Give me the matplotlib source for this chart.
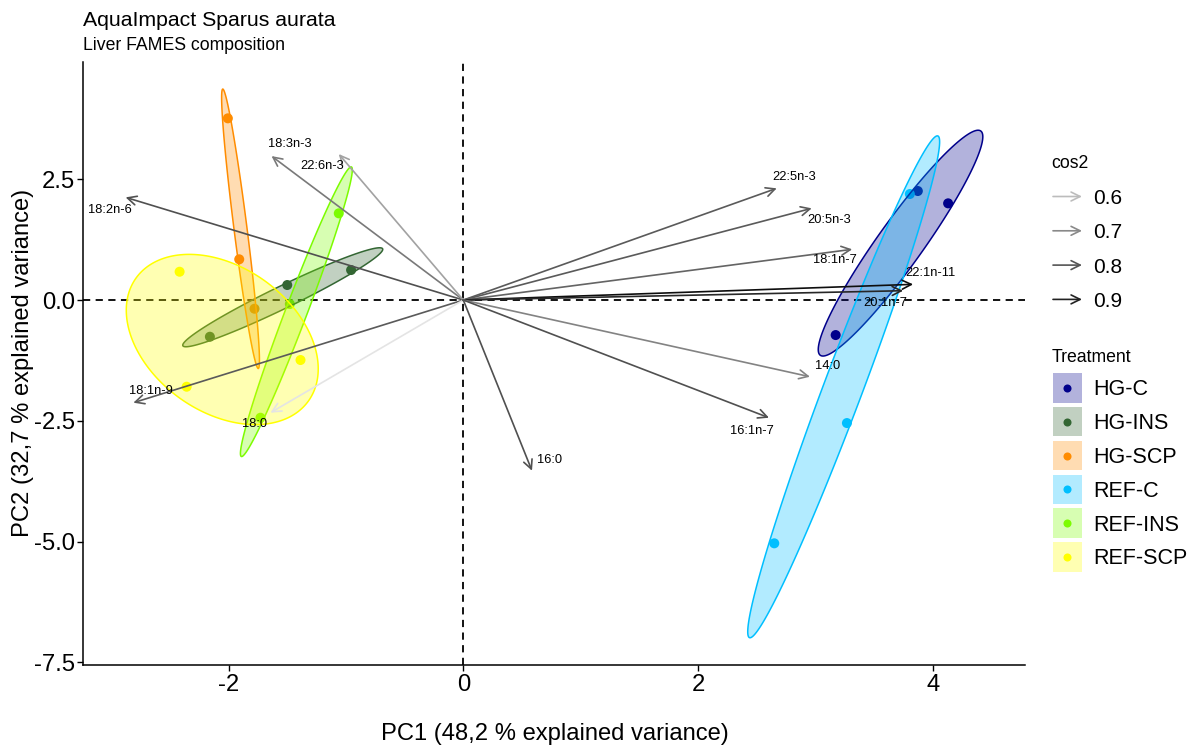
import numpy as np
import matplotlib
matplotlib.use("Agg")
import matplotlib.pyplot as plt
from matplotlib.patches import Polygon, FancyArrowPatch, Rectangle
from matplotlib.lines import Line2D
from matplotlib.colors import LinearSegmentedColormap, Normalize, to_rgba

plt.rcParams['font.family'] = ['Liberation Sans', 'DejaVu Sans']

# ---------------- data ----------------
groups = ["HG-C", "HG-INS", "HG-SCP", "REF-C", "REF-INS", "REF-SCP"]
group_colors = ["#00008B", "#336633", "#FF8C00", "#00BFFF", "#7CFC00", "#FFFF00"]

ind_pc1 = {
    "HG-C":    [3.872, 4.130, 3.172],
    "HG-INS":  [-0.956, -1.500, -2.159],
    "HG-SCP":  [-2.006, -1.909, -1.779],
    "REF-C":   [3.804, 3.268, 2.649],
    "REF-INS": [-1.061, -1.478, -1.728],
    "REF-SCP": [-2.417, -1.387, -2.357],
}
ind_pc2 = {
    "HG-C":    [2.257, 2.002, -0.725],
    "HG-INS":  [0.621, 0.311, -0.760],
    "HG-SCP":  [3.762, 0.843, -0.180],
    "REF-C":   [2.195, -2.547, -5.037],
    "REF-INS": [1.795, -0.083, -2.437],
    "REF-SCP": [0.586, -1.242, -1.795],
}

var_names = ["18:2n-6", "18:3n-3", "22:6n-3", "18:1n-9", "18:0", "16:0",
             "22:5n-3", "20:5n-3", "18:1n-7", "22:1n-11", "20:1n-7", "14:0", "16:1n-7"]
var_pc1 = [-2.877, -1.634, -1.061, -2.811, -1.643, 0.585,
           2.670, 2.968, 3.313, 3.832, 3.747, 2.953, 2.604]
var_pc2 = [2.126, 2.981, 3.023, -2.126, -2.333, -3.534,
           2.313, 1.899, 1.050, 0.325, 0.193, -1.588, -2.437]
var_cos2 = [0.81, 0.73, 0.65, 0.79, 0.52, 0.81,
            0.79, 0.79, 0.77, 0.94, 0.89, 0.71, 0.81]

cos2_breaks = [0.6, 0.7, 0.8, 0.9]
x_ticks = [-2, 0, 2, 4]
y_ticks = [-7.5, -5.0, -2.5, 0.0, 2.5]

title = "AquaImpact Sparus aurata"
subtitle = "Liver FAMES composition"
xlabel = "PC1 (48,2 % explained variance)"
ylabel = "PC2 (32,7 % explained variance)"

# label offsets (pixels) for variable names relative to arrow tips
label_off = [(-16, -13), (18, 12), (-17, -12), (18, 12), (-16, -11), (18, 11),
             (17, 11), (17, -12), (-17, -11), (17, 11), (-18, -12), (18, 11), (-17, -13)]

# ---------------- figure ----------------
W, H = 1197, 746
fig = plt.figure(figsize=(W / 100, H / 100), dpi=100)
fig.patch.set_facecolor("white")


def fx(px):
    return px / W


def fy(py):
    return 1 - py / H


ax_l, ax_r, ax_t, ax_b = 83, 1025, 62.4, 664.7
ax = fig.add_axes([fx(ax_l), fy(ax_b), (ax_r - ax_l) / W, (ax_b - ax_t) / H])
ax.set_xlim(-3.24, 4.785)
ax.set_ylim(-7.55, 4.92)

for s in ["top", "right"]:
    ax.spines[s].set_visible(False)
for s in ["left", "bottom"]:
    ax.spines[s].set_linewidth(1.1)
    ax.spines[s].set_color("black")

ax.set_xticks(x_ticks)
ax.set_xticklabels([str(v) for v in x_ticks])
ax.set_yticks(y_ticks)
ax.set_yticklabels([f"{v:.1f}" for v in y_ticks])
ax.tick_params(axis="both", direction="out", length=4, width=1.0, color="black",
               labelsize=17.2, labelcolor="black")
ax.tick_params(axis="x", pad=3)
ax.tick_params(axis="y", pad=2)

# reference lines
ax.axhline(0, color="black", lw=1.3, ls=(0, (4, 3)), zorder=1)
ax.axvline(0, color="black", lw=1.3, ls=(0, (4, 3)), zorder=1)

# points
for g, c in zip(groups, group_colors):
    ax.scatter(ind_pc1[g], ind_pc2[g], s=52, color=c, edgecolors="none", zorder=2)

# ellipses from group covariance
t = np.linspace(0, 2 * np.pi, 200)
for g, c in zip(groups, group_colors):
    pts = np.column_stack([ind_pc1[g], ind_pc2[g]])
    mu = pts.mean(axis=0)
    cov = np.cov(pts.T) * 2.0
    L = np.linalg.cholesky(cov)
    circ = np.vstack([np.cos(t), np.sin(t)])
    ell = (L @ circ).T + mu
    ax.add_patch(Polygon(ell, closed=True, facecolor=to_rgba(c, 0.3),
                         edgecolor=c, lw=1.1, zorder=3))

# variable arrows
cmap = LinearSegmentedColormap.from_list("cos2", ["#E4E4E4", "#0E0E0E"], N=256)
norm = Normalize(vmin=0.52, vmax=0.94)
for name, x, y, c2, off in zip(var_names, var_pc1, var_pc2, var_cos2, label_off):
    col = cmap(norm(c2))
    arr = FancyArrowPatch((0, 0), (x, y), arrowstyle="->,head_length=0.65,head_width=0.32",
                          mutation_scale=10, color=col, lw=1.2, shrinkA=0, shrinkB=0, zorder=4)
    ax.add_patch(arr)
    ax.annotate(name, xy=(x, y), xytext=off, textcoords="offset pixels",
                ha="center", va="center", fontsize=9.3, color="black", zorder=5)

# titles and axis labels
fig.text(fx(83), fy(26), title, fontsize=15.3, ha="left", va="baseline")
fig.text(fx(83), fy(50), subtitle, fontsize=12.7, ha="left", va="baseline")
fig.text(fx(555), fy(740), xlabel, fontsize=17.1, ha="center", va="baseline")
fig.text(fx(23.5), fy(363), ylabel, fontsize=17.1, ha="center", va="center", rotation=90)

# ---------------- legends ----------------
fig.text(fx(1051), fy(168), "cos2", fontsize=12.7, ha="left", va="baseline")
for i, b in enumerate(cos2_breaks):
    yb = 204 + i * 34.3
    yc = yb - 7.5
    col = cmap(norm(b))
    fig.add_artist(FancyArrowPatch((fx(1053), fy(yc)), (fx(1082), fy(yc)),
                                   transform=fig.transFigure,
                                   arrowstyle="->,head_length=0.65,head_width=0.32",
                                   mutation_scale=10, color=col, lw=1.2,
                                   shrinkA=0, shrinkB=0))
    fig.text(fx(1093), fy(yb), f"{b:.1f}", fontsize=15, ha="left", va="baseline")

fig.text(fx(1051.5), fy(361.5), "Treatment", fontsize=12.7, ha="left", va="baseline")
for i, (g, c) in enumerate(zip(groups, group_colors)):
    top = 373.3 + i * 33.8
    size = 29.3
    fig.add_artist(Rectangle((fx(1052.7), fy(top + size)), size / W, size / H,
                             transform=fig.transFigure, facecolor=to_rgba(c, 0.3),
                             edgecolor="none"))
    cy = top + size / 2
    fig.add_artist(Line2D([fx(1052.7 + size / 2)], [fy(cy)], marker="o", markersize=5.8,
                          color=c, markeredgewidth=0, transform=fig.transFigure))
    fig.text(fx(1093), fy(cy + 7.5), g, fontsize=15.5, ha="left", va="baseline")

fig.savefig("out.png", dpi=100, facecolor="white")
